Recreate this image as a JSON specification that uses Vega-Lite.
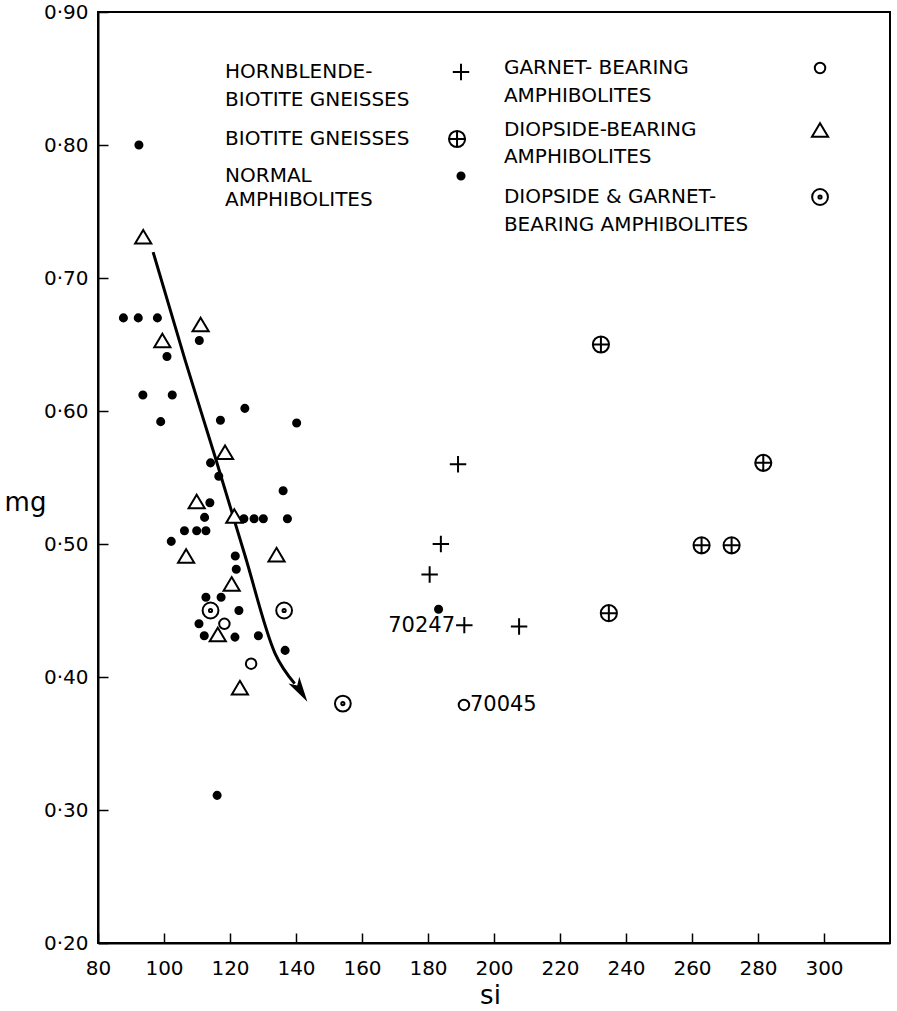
{
  "$schema": "https://vega.github.io/schema/vega-lite/v6.json",
  "width": 792,
  "height": 931,
  "autosize": {"type": "none"},
  "padding": {"left": 98, "top": 12, "right": 7, "bottom": 68},
  "background": "white",
  "config": {
    "font": "DejaVu Sans",
    "view": {"stroke": "black", "strokeWidth": 2},
    "axis": {
      "grid": false,
      "domainColor": "black",
      "domainWidth": 2,
      "tickColor": "black",
      "tickWidth": 1.5,
      "labelColor": "black",
      "labelFont": "DejaVu Sans",
      "labelFontSize": 20,
      "labelFlush": false,
      "labelOverlap": false,
      "titleColor": "black",
      "titleFont": "DejaVu Sans",
      "titleFontWeight": "normal"
    }
  },
  "datasets": {
    "points": [
      {"si": 92.4, "mg": 0.800, "type": "normal amphibolite"},
      {"si": 87.7, "mg": 0.670, "type": "normal amphibolite"},
      {"si": 92.2, "mg": 0.670, "type": "normal amphibolite"},
      {"si": 98.0, "mg": 0.670, "type": "normal amphibolite"},
      {"si": 110.7, "mg": 0.653, "type": "normal amphibolite"},
      {"si": 100.9, "mg": 0.641, "type": "normal amphibolite"},
      {"si": 93.6, "mg": 0.612, "type": "normal amphibolite"},
      {"si": 102.5, "mg": 0.612, "type": "normal amphibolite"},
      {"si": 99.0, "mg": 0.592, "type": "normal amphibolite"},
      {"si": 124.5, "mg": 0.602, "type": "normal amphibolite"},
      {"si": 117.1, "mg": 0.593, "type": "normal amphibolite"},
      {"si": 140.2, "mg": 0.591, "type": "normal amphibolite"},
      {"si": 114.1, "mg": 0.561, "type": "normal amphibolite"},
      {"si": 116.6, "mg": 0.551, "type": "normal amphibolite"},
      {"si": 136.1, "mg": 0.540, "type": "normal amphibolite"},
      {"si": 113.9, "mg": 0.531, "type": "normal amphibolite"},
      {"si": 112.3, "mg": 0.520, "type": "normal amphibolite"},
      {"si": 124.2, "mg": 0.519, "type": "normal amphibolite"},
      {"si": 127.3, "mg": 0.519, "type": "normal amphibolite"},
      {"si": 130.1, "mg": 0.519, "type": "normal amphibolite"},
      {"si": 137.4, "mg": 0.519, "type": "normal amphibolite"},
      {"si": 106.2, "mg": 0.510, "type": "normal amphibolite"},
      {"si": 109.9, "mg": 0.510, "type": "normal amphibolite"},
      {"si": 112.7, "mg": 0.510, "type": "normal amphibolite"},
      {"si": 102.2, "mg": 0.502, "type": "normal amphibolite"},
      {"si": 121.6, "mg": 0.491, "type": "normal amphibolite"},
      {"si": 121.9, "mg": 0.481, "type": "normal amphibolite"},
      {"si": 112.7, "mg": 0.460, "type": "normal amphibolite"},
      {"si": 117.3, "mg": 0.460, "type": "normal amphibolite"},
      {"si": 122.7, "mg": 0.450, "type": "normal amphibolite"},
      {"si": 110.6, "mg": 0.440, "type": "normal amphibolite"},
      {"si": 112.2, "mg": 0.431, "type": "normal amphibolite"},
      {"si": 121.5, "mg": 0.430, "type": "normal amphibolite"},
      {"si": 128.6, "mg": 0.431, "type": "normal amphibolite"},
      {"si": 136.7, "mg": 0.420, "type": "normal amphibolite"},
      {"si": 116.1, "mg": 0.311, "type": "normal amphibolite"},
      {"si": 183.2, "mg": 0.451, "type": "normal amphibolite"},
      {"si": 93.7, "mg": 0.731, "type": "diopside-bearing amphibolite"},
      {"si": 111.1, "mg": 0.665, "type": "diopside-bearing amphibolite"},
      {"si": 99.5, "mg": 0.653, "type": "diopside-bearing amphibolite"},
      {"si": 118.5, "mg": 0.569, "type": "diopside-bearing amphibolite"},
      {"si": 109.9, "mg": 0.532, "type": "diopside-bearing amphibolite"},
      {"si": 121.3, "mg": 0.521, "type": "diopside-bearing amphibolite"},
      {"si": 106.7, "mg": 0.491, "type": "diopside-bearing amphibolite"},
      {"si": 134.1, "mg": 0.492, "type": "diopside-bearing amphibolite"},
      {"si": 120.5, "mg": 0.470, "type": "diopside-bearing amphibolite"},
      {"si": 116.3, "mg": 0.432, "type": "diopside-bearing amphibolite"},
      {"si": 123.0, "mg": 0.392, "type": "diopside-bearing amphibolite"},
      {"si": 118.3, "mg": 0.440, "type": "garnet-bearing amphibolite"},
      {"si": 126.4, "mg": 0.410, "type": "garnet-bearing amphibolite"},
      {"si": 190.9, "mg": 0.379, "type": "garnet-bearing amphibolite"},
      {"si": 114.1, "mg": 0.450, "type": "diopside & garnet-bearing amphibolite"},
      {"si": 136.4, "mg": 0.450, "type": "diopside & garnet-bearing amphibolite"},
      {"si": 154.2, "mg": 0.380, "type": "diopside & garnet-bearing amphibolite"},
      {"si": 189.1, "mg": 0.560, "type": "hornblende-biotite gneiss"},
      {"si": 183.9, "mg": 0.500, "type": "hornblende-biotite gneiss"},
      {"si": 180.5, "mg": 0.477, "type": "hornblende-biotite gneiss"},
      {"si": 191.0, "mg": 0.439, "type": "hornblende-biotite gneiss"},
      {"si": 207.6, "mg": 0.438, "type": "hornblende-biotite gneiss"},
      {"si": 232.4, "mg": 0.650, "type": "biotite gneiss"},
      {"si": 281.6, "mg": 0.561, "type": "biotite gneiss"},
      {"si": 262.9, "mg": 0.499, "type": "biotite gneiss"},
      {"si": 272.0, "mg": 0.499, "type": "biotite gneiss"},
      {"si": 234.8, "mg": 0.448, "type": "biotite gneiss"}
    ],
    "legendKeys": [
      {"si": 190.0, "mg": 0.8549, "type": "hornblende-biotite gneiss"},
      {"si": 188.8, "mg": 0.8045, "type": "biotite gneiss"},
      {"si": 190.0, "mg": 0.7767, "type": "normal amphibolite"},
      {"si": 298.8, "mg": 0.8579, "type": "garnet-bearing amphibolite"},
      {"si": 298.8, "mg": 0.8113, "type": "diopside-bearing amphibolite"},
      {"si": 298.8, "mg": 0.7609, "type": "diopside & garnet-bearing amphibolite"}
    ],
    "legendText": [
      {"si": 118.5, "mg": 0.8549, "text": "HORNBLENDE-"},
      {"si": 118.5, "mg": 0.8338, "text": "BIOTITE GNEISSES"},
      {"si": 118.5, "mg": 0.8045, "text": "BIOTITE GNEISSES"},
      {"si": 118.5, "mg": 0.7767, "text": "NORMAL"},
      {"si": 118.5, "mg": 0.7586, "text": "AMPHIBOLITES"},
      {"si": 203.0, "mg": 0.8579, "text": "GARNET- BEARING"},
      {"si": 203.0, "mg": 0.8368, "text": "AMPHIBOLITES"},
      {"si": 203.0, "mg": 0.8113, "text": "DIOPSIDE-BEARING"},
      {"si": 203.0, "mg": 0.7910, "text": "AMPHIBOLITES"},
      {"si": 203.0, "mg": 0.7609, "text": "DIOPSIDE & GARNET-"},
      {"si": 203.0, "mg": 0.7398, "text": "BEARING AMPHIBOLITES"}
    ],
    "sampleLabels": [
      {"si": 188.2, "mg": 0.438, "text": "70247", "side": "left"},
      {"si": 192.7, "mg": 0.379, "text": "70045", "side": "right"}
    ],
    "arrow": [
      {"si": 96.7, "mg": 0.7195, "step": 1},
      {"si": 106.4, "mg": 0.6383, "step": 2},
      {"si": 115.5, "mg": 0.5654, "step": 3},
      {"si": 124.5, "mg": 0.4917, "step": 4},
      {"si": 133.6, "mg": 0.4180, "step": 5},
      {"si": 139.6, "mg": 0.3950, "step": 6}
    ],
    "arrowHead": [
      {"si": 141.4, "mg": 0.3895}
    ]
  },
  "encoding": {
    "x": {
      "field": "si",
      "type": "quantitative",
      "scale": {"domain": [80, 320], "nice": false, "zero": false},
      "axis": {
        "values": [80, 100, 120, 140, 160, 180, 200, 220, 240, 260, 280, 300],
        "title": "si",
        "titleFontSize": 26,
        "titleX": 392,
        "titleY": 52,
        "titleAlign": "center",
        "titleBaseline": "middle",
        "tickSize": -10,
        "labelPadding": 25
      }
    },
    "y": {
      "field": "mg",
      "type": "quantitative",
      "scale": {"domain": [0.2, 0.9], "nice": false, "zero": false},
      "axis": {
        "values": [0.2, 0.3, 0.4, 0.5, 0.6, 0.7, 0.8, 0.9],
        "labelExpr": "replace(format(datum.value, '.2f'), '.', '·')",
        "title": "mg",
        "titleAngle": 0,
        "titleFontSize": 26,
        "titleX": -73,
        "titleY": 490,
        "titleAlign": "center",
        "titleBaseline": "middle",
        "tickSize": -10,
        "labelPadding": 20
      }
    }
  },
  "layer": [
    {
      "data": {"name": "arrow"},
      "mark": {"type": "line", "color": "black", "strokeWidth": 3, "interpolate": "monotone"},
      "encoding": {"order": {"field": "step", "type": "quantitative"}}
    },
    {
      "data": {"name": "arrowHead"},
      "mark": {"type": "point", "shape": "M0,1L-0.5,-1L0,-0.5L0.5,-1Z", "size": 650, "angle": 328, "filled": true, "color": "black", "opacity": 1}
    },
    {
      "data": {"name": "points"},
      "mark": {"type": "point", "filled": true, "stroke": "black", "strokeWidth": 2, "opacity": 1},
      "encoding": {
        "shape": {"field": "type", "type": "nominal", "legend": null, "scale": {
          "domain": ["hornblende-biotite gneiss", "biotite gneiss", "normal amphibolite", "garnet-bearing amphibolite", "diopside-bearing amphibolite", "diopside & garnet-bearing amphibolite"],
          "range": ["M-1,0L1,0M0,-1L0,1", "M-1,0A1,1,0,1,1,1,0A1,1,0,1,1,-1,0ZM-1,0L1,0M0,-1L0,1", "circle", "M-1,0A1,1,0,1,1,1,0A1,1,0,1,1,-1,0Z", "M0,-0.8L0.95,0.8L-0.95,0.8Z", "M-1,0A1,1,0,1,1,1,0A1,1,0,1,1,-1,0ZM-0.2,0A0.2,0.2,0,1,1,0.2,0A0.2,0.2,0,1,1,-0.2,0Z"]}},
        "size": {"field": "type", "type": "nominal", "legend": null, "scale": {
          "type": "ordinal",
          "domain": ["hornblende-biotite gneiss", "biotite gneiss", "normal amphibolite", "garnet-bearing amphibolite", "diopside-bearing amphibolite", "diopside & garnet-bearing amphibolite"],
          "range": [270, 260, 50, 110, 289, 250]}},
        "fill": {"field": "type", "type": "nominal", "legend": null, "scale": {
          "domain": ["hornblende-biotite gneiss", "biotite gneiss", "normal amphibolite", "garnet-bearing amphibolite", "diopside-bearing amphibolite", "diopside & garnet-bearing amphibolite"],
          "range": ["white", "white", "black", "white", "white", "white"]}}
      }
    },
    {
      "data": {"name": "legendKeys"},
      "mark": {"type": "point", "filled": true, "stroke": "black", "strokeWidth": 2, "opacity": 1},
      "encoding": {
        "shape": {"field": "type", "type": "nominal", "legend": null, "scale": {
          "domain": ["hornblende-biotite gneiss", "biotite gneiss", "normal amphibolite", "garnet-bearing amphibolite", "diopside-bearing amphibolite", "diopside & garnet-bearing amphibolite"],
          "range": ["M-1,0L1,0M0,-1L0,1", "M-1,0A1,1,0,1,1,1,0A1,1,0,1,1,-1,0ZM-1,0L1,0M0,-1L0,1", "circle", "M-1,0A1,1,0,1,1,1,0A1,1,0,1,1,-1,0Z", "M0,-0.8L0.95,0.8L-0.95,0.8Z", "M-1,0A1,1,0,1,1,1,0A1,1,0,1,1,-1,0ZM-0.2,0A0.2,0.2,0,1,1,0.2,0A0.2,0.2,0,1,1,-0.2,0Z"]}},
        "size": {"field": "type", "type": "nominal", "legend": null, "scale": {
          "type": "ordinal",
          "domain": ["hornblende-biotite gneiss", "biotite gneiss", "normal amphibolite", "garnet-bearing amphibolite", "diopside-bearing amphibolite", "diopside & garnet-bearing amphibolite"],
          "range": [270, 260, 50, 110, 289, 250]}},
        "fill": {"field": "type", "type": "nominal", "legend": null, "scale": {
          "domain": ["hornblende-biotite gneiss", "biotite gneiss", "normal amphibolite", "garnet-bearing amphibolite", "diopside-bearing amphibolite", "diopside & garnet-bearing amphibolite"],
          "range": ["white", "white", "black", "white", "white", "white"]}}
      }
    },
    {
      "data": {"name": "legendText"},
      "mark": {"type": "text", "align": "left", "baseline": "middle", "fontSize": 20, "color": "black", "font": "DejaVu Sans"},
      "encoding": {"text": {"field": "text", "type": "nominal"}}
    },
    {
      "data": {"name": "sampleLabels"},
      "transform": [{"filter": "datum.side === 'left'"}],
      "mark": {"type": "text", "align": "right", "baseline": "middle", "fontSize": 21, "color": "black", "font": "DejaVu Sans"},
      "encoding": {"text": {"field": "text", "type": "nominal"}}
    },
    {
      "data": {"name": "sampleLabels"},
      "transform": [{"filter": "datum.side === 'right'"}],
      "mark": {"type": "text", "align": "left", "baseline": "middle", "fontSize": 21, "color": "black", "font": "DejaVu Sans"},
      "encoding": {"text": {"field": "text", "type": "nominal"}}
    }
  ]
}
